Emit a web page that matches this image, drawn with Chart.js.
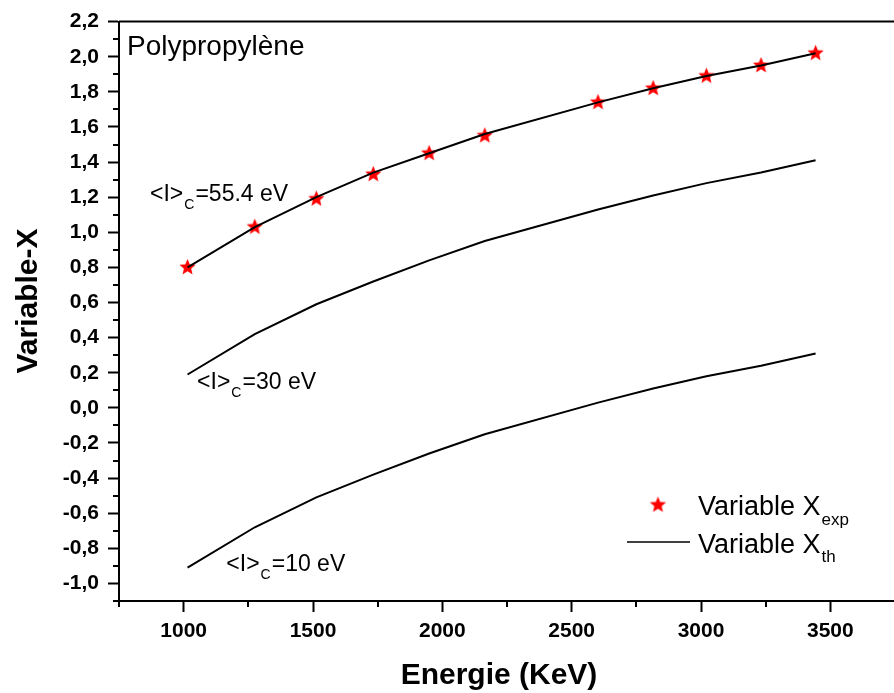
<!DOCTYPE html>
<html>
<head>
<meta charset="utf-8">
<script src="https://cdn.jsdelivr.net/npm/chart.js@4.4.1/dist/chart.umd.min.js"></script>
<style>
  html, body { margin: 0; padding: 0; background: #fff; overflow: hidden; }
  canvas { display: block; }
</style>
</head>
<body>
<canvas id="chart" width="905" height="693"></canvas>
<script>
// energies (keV)
const energies = [1015, 1275, 1513, 1733, 1949, 2164, 2602, 2815, 3021, 3232, 3443];
// measured X
const xExp = [0.80, 1.03, 1.19, 1.33, 1.45, 1.55, 1.74, 1.82, 1.89, 1.95, 2.02];
// computed X for <I>c = 55.4, 30 and 10 eV
const xTh55 = [0.80, 1.03, 1.20, 1.34, 1.45, 1.56, 1.74, 1.82, 1.89, 1.95, 2.02];
const xTh30 = [0.19, 0.42, 0.59, 0.72, 0.84, 0.95, 1.13, 1.21, 1.28, 1.34, 1.41];
const xTh10 = [-0.91, -0.68, -0.51, -0.38, -0.26, -0.15, 0.03, 0.11, 0.18, 0.24, 0.31];

// curve labels, anchored in data units (energy, X)
const curveNames = ['55.4', '30', '10'];
const curveLabelE = [870, 1052, 1165];
const curveLabelX = [1.18, 0.11, -0.93];

const FONT = "'Liberation Sans', Arial, sans-serif";

const toPoints = (xs, ys) => xs.map((x, i) => ({ x: x, y: ys[i] }));
const isMajorX = v => Math.round(v) % 500 === 0;
const isMajorY = v => Math.round(v * 10) % 2 === 0;

// filled five point star used as marker
function makeStar(r, color) {
  const c = document.createElement('canvas');
  const s = Math.ceil(r * 2) + 2;
  c.width = s; c.height = s;
  const g = c.getContext('2d');
  g.fillStyle = color;
  g.beginPath();
  for (let i = 0; i < 10; i++) {
    const rad = i % 2 ? r * 0.45 : r;
    const a = -Math.PI / 2 + i * Math.PI / 5;
    const px = s / 2 + rad * Math.cos(a), py = s / 2 + rad * Math.sin(a);
    if (i) g.lineTo(px, py); else g.moveTo(px, py);
  }
  g.closePath();
  g.fill();
  return c;
}
const starImg = makeStar(8.5, '#ff0000');

function lineSet(label, ys) {
  return {
    label: label,
    data: toPoints(energies, ys),
    showLine: true,
    borderColor: '#000',
    borderWidth: 2,
    tension: 0,
    pointRadius: 0,
    order: 0
  };
}

// text with a subscript part
function subText(ctx, x, y, main, sub, tail, size, subSize, drop) {
  ctx.font = size + 'px ' + FONT;
  ctx.fillText(main, x, y);
  x += ctx.measureText(main).width + 1;
  ctx.font = subSize + 'px ' + FONT;
  ctx.fillText(sub, x, y + drop);
  x += ctx.measureText(sub).width + 1;
  if (tail) {
    ctx.font = size + 'px ' + FONT;
    ctx.fillText(tail, x, y);
  }
}

const decorPlugin = {
  id: 'decor',
  afterDraw(chart) {
    const ctx = chart.ctx;
    const a = chart.chartArea;
    const xs = chart.scales.x, ys = chart.scales.y;
    ctx.save();
    ctx.strokeStyle = '#000';
    ctx.fillStyle = '#000';

    // top and right frame
    ctx.lineWidth = 2;
    ctx.beginPath();
    ctx.moveTo(a.left, a.top);
    ctx.lineTo(a.right, a.top);
    ctx.lineTo(a.right, a.bottom);
    ctx.stroke();

    // minor ticks
    ctx.lineWidth = 2;
    ctx.beginPath();
    xs.ticks.forEach(t => {
      if (isMajorX(t.value)) return;
      const px = Math.round(xs.getPixelForValue(t.value));
      ctx.moveTo(px, a.bottom);
      ctx.lineTo(px, a.bottom + 6);
    });
    ys.ticks.forEach(t => {
      if (isMajorY(t.value)) return;
      const py = Math.round(ys.getPixelForValue(t.value));
      ctx.moveTo(a.left, py);
      ctx.lineTo(a.left - 6, py);
    });
    ctx.stroke();

    // axis titles
    ctx.font = 'bold 30px ' + FONT;
    ctx.textAlign = 'center';
    ctx.textBaseline = 'alphabetic';
    ctx.fillText('Energie (KeV)', 499, 684);
    ctx.save();
    ctx.translate(37, 301);
    ctx.rotate(-Math.PI / 2);
    ctx.fillText('Variable-X', 0, 0);
    ctx.restore();

    // material name
    ctx.textAlign = 'left';
    ctx.font = '28px ' + FONT;
    ctx.fillText('Polypropylène', a.left + 8, a.top + 33);

    // curve labels
    curveNames.forEach((name, i) => {
      const px = xs.getPixelForValue(curveLabelE[i]);
      const py = ys.getPixelForValue(curveLabelX[i]);
      subText(ctx, px, py, '<I>', 'C', '=' + name + ' eV', 23, 14, 8);
    });

    // legend
    const lx = a.left + 539, r1 = a.bottom - 96, r2 = a.bottom - 59;
    ctx.drawImage(starImg, lx - starImg.width / 2, r1 - starImg.height / 2);
    subText(ctx, lx + 40, r1 + 10, 'Variable X', 'exp', '', 27, 17, 10);
    ctx.lineWidth = 1.5;
    ctx.beginPath();
    ctx.moveTo(lx - 31, r2);
    ctx.lineTo(lx + 32, r2);
    ctx.stroke();
    subText(ctx, lx + 40, r2 + 11, 'Variable X', 'th', '', 27, 17, 9);

    ctx.restore();
  }
};

const tickFont = { family: FONT, size: 21, weight: 'bold' };

new Chart(document.getElementById('chart'), {
  type: 'scatter',
  data: {
    datasets: [
      lineSet('<I>c=55.4 eV', xTh55),
      lineSet('<I>c=30 eV', xTh30),
      lineSet('<I>c=10 eV', xTh10),
      {
        label: 'Variable X exp',
        data: toPoints(energies, xExp),
        showLine: false,
        pointStyle: starImg,
        pointRadius: 9,
        order: 1
      }
    ]
  },
  options: {
    responsive: false,
    animation: false,
    devicePixelRatio: 1,
    layout: { padding: { top: 20, right: 2, left: 0, bottom: 0 } },
    plugins: { legend: { display: false }, tooltip: { enabled: false } },
    scales: {
      x: {
        type: 'linear',
        min: 750,
        max: 3750,
        afterFit: s => { s.height = 92; },
        ticks: {
          stepSize: 250,
          autoSkip: false,
          maxRotation: 0,
          padding: 7,
          color: '#000',
          font: tickFont,
          callback: v => (isMajorX(v) && v >= 1000 && v <= 3500) ? String(v) : ''
        },
        grid: {
          drawOnChartArea: false,
          tickLength: 11,
          tickWidth: 2,
          tickColor: c => (c.tick && isMajorX(c.tick.value)) ? '#000' : 'rgba(0,0,0,0)'
        },
        border: { color: '#000', width: 2 }
      },
      y: {
        type: 'linear',
        min: -1.1,
        max: 2.2,
        afterFit: s => { s.width = 119; },
        ticks: {
          stepSize: 0.1,
          autoSkip: false,
          padding: 9,
          color: '#000',
          font: tickFont,
          callback: v => {
            const k = Math.round(v * 10);
            return k % 2 === 0 ? (k / 10).toFixed(1).replace('.', ',') : '';
          }
        },
        grid: {
          drawOnChartArea: false,
          tickLength: 11,
          tickWidth: 2,
          tickColor: c => (c.tick && isMajorY(c.tick.value)) ? '#000' : 'rgba(0,0,0,0)'
        },
        border: { color: '#000', width: 2 }
      }
    }
  },
  plugins: [decorPlugin]
});
</script>
</body>
</html>
